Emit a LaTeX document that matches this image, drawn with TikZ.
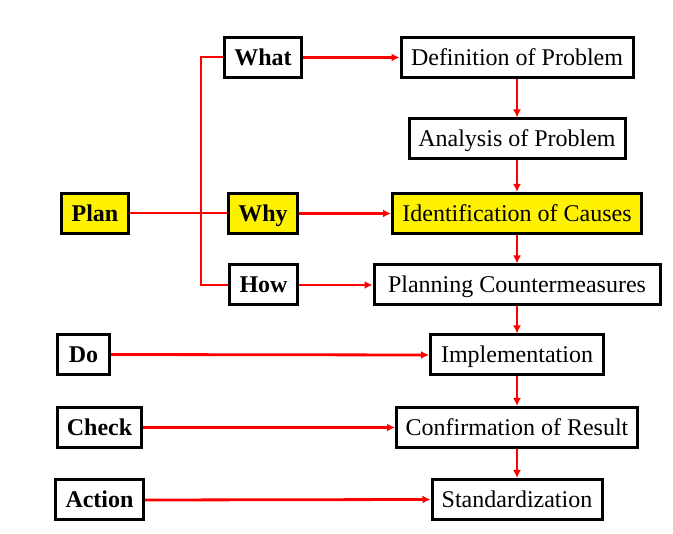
\documentclass[tikz,border=0pt]{standalone}
\usepackage{fontspec}
\setmainfont{Liberation Serif}
\usetikzlibrary{arrows.meta}
\tikzset{
  box/.style={draw=black, line width=3pt, fill=white, inner sep=0pt, minimum height=40pt,
              text height=16pt, text depth=0pt,
              font=\fontsize{24}{28}\selectfont, anchor=center},
  lbl/.style={box, font=\fontsize{24}{28}\selectfont\bfseries},
  hl/.style={fill=yellow},
  thin/.style={draw=red, line width=2pt},
  flow/.style={draw=red, line width=2.8pt, -{Latex[length=8pt,width=8pt]}},
}
\begin{document}
\begin{tikzpicture}[x=1pt,y=-1pt]
\useasboundingbox (0,0) rectangle (673,534);
% left labels
\node[lbl, minimum width=77pt] (what) at (263,57.5) {What};
\node[lbl, hl, minimum width=67pt] (plan) at (95,213.5) {Plan};
\node[lbl, hl, minimum width=69pt] (why) at (263,213.5) {Why};
\node[lbl, minimum width=68pt] (how) at (263.5,285) {How};
\node[lbl, minimum width=52pt] (do) at (83.5,354.5) {Do};
\node[lbl, minimum width=84pt] (check) at (99.5,427.5) {Check};
\node[lbl, minimum width=88pt] (action) at (99.5,500) {Action};
% right boxes
\node[box, minimum width=232pt] (def) at (517,57.5) {Definition of Problem};
\node[box, minimum width=216pt] (ana) at (517,139) {Analysis of Problem};
\node[box, hl, minimum width=249pt] (ide) at (517,213.5) {Identification of Causes};
\node[box, minimum width=286pt] (pla) at (517,285) {Planning Countermeasures};
\node[box, minimum width=173pt] (imp) at (517,355) {Implementation};
\node[box, minimum width=241pt] (con) at (517,427.5) {Confirmation of Result};
\node[box, minimum width=170pt] (sta) at (517,499.5) {Standardization};
% tree
\coordinate (tw) at (201,57.5);
\coordinate (th) at (201,285);
\draw[thin] (what.west) -- (tw) -- (th) -- (how.west);
\draw[thin] (plan.east) -- (why.west);
% horizontal arrows
\draw[flow] (what.east) -- (def.west);
\draw[flow] (why.east) -- (ide.west);
\draw[flow] (how.east) -- (pla.west);
\draw[flow] (do.east) -- (imp.west);
\draw[flow] (check.east) -- (con.west);
\draw[flow] (action.east) -- (sta.west);
% vertical arrows
\draw[flow] (def.south) -- (ana.north);
\draw[flow] (ana.south) -- (ide.north);
\draw[flow] (ide.south) -- (pla.north);
\draw[flow] (pla.south) -- (imp.north);
\draw[flow] (imp.south) -- (con.north);
\draw[flow] (con.south) -- (sta.north);
\end{tikzpicture}
\end{document}
